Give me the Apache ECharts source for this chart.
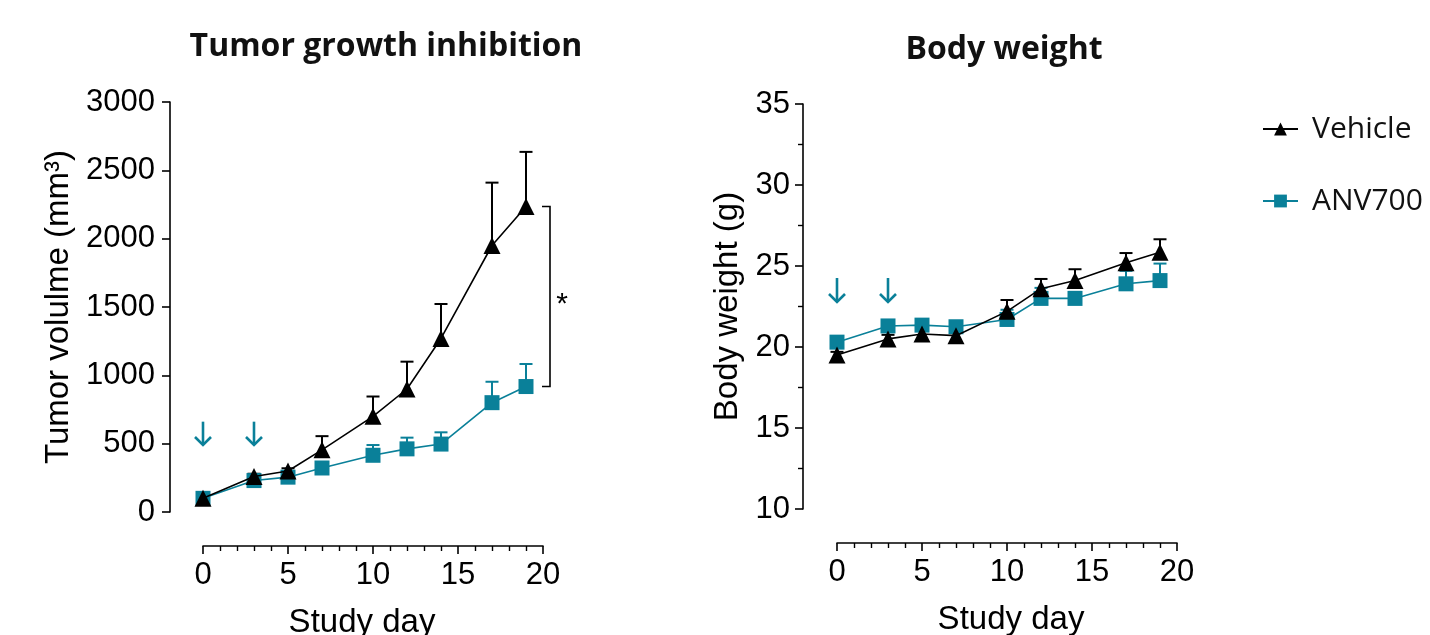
<!DOCTYPE html>
<html><head><meta charset="utf-8">
<script src="https://cdn.jsdelivr.net/npm/echarts@6/dist/echarts.min.js"></script>
<style>html,body{margin:0;padding:0;background:#fff}#c{width:1430px;height:635px}</style>
</head><body><div id="c"></div>
<script>
// ---- data ----
const days = [0, 3, 5, 7, 10, 12, 14, 17, 19];
const tumorVehicle    = [100, 260, 300, 455, 700, 900, 1270, 1950, 2235];
const tumorVehicleSEM = [10, 20, 20, 100, 145, 200, 252, 460, 400];
const tumorANV        = [100, 230, 255, 322, 415, 462, 497, 800, 918];
const tumorANVSEM     = [10, 15, 15, 20, 75, 82, 86, 153, 165];
const bwVehicle       = [19.5, 20.5, 20.8, 20.7, 22.2, 23.6, 24.1, 25.2, 25.85];
const bwVehicleSEM    = [0.2, 0.25, 0.4, 0.45, 0.7, 0.6, 0.7, 0.6, 0.8];
const bwANV           = [20.3, 21.3, 21.35, 21.25, 21.7, 23.0, 23.0, 23.9, 24.1];
const bwANVSEM        = [0.3, 0.3, 0.3, 0.3, 0.6, 0.65, 0.4, 0.8, 1.05];
const dosingDays = [0, 3];
const tumorArrow = [661, 490];     // top, bottom (mm3)
const bwArrow = [24.26, 22.78];    // top, bottom (g)
const sigBracket = [19, 2235, 918]; // day, vehicle mean, ANV mean

const TEAL = '#0a8099';
const BLACK = '#000000';
const TICKFONT = 'Liberation Sans';
const LABELFONT = 'Open Sans';

function errData(means, sems) { return days.map((d, i) => [d, means[i], means[i] + sems[i]]); }
function errSeries(name, xi, means, sems, color) {
  return {
    type: 'custom', name: name + ' err', xAxisIndex: xi, yAxisIndex: xi, z: 1, silent: true,
    data: errData(means, sems),
    renderItem: function (params, api) {
      const p0 = api.coord([api.value(0), api.value(1)]);
      const p1 = api.coord([api.value(0), api.value(2)]);
      return { type: 'group', children: [
        { type: 'line', shape: { x1: p0[0], y1: p0[1], x2: p1[0], y2: p1[1] }, style: { stroke: color, lineWidth: 2 } },
        { type: 'line', shape: { x1: p1[0] - 6.5, y1: p1[1], x2: p1[0] + 6.5, y2: p1[1] }, style: { stroke: color, lineWidth: 2 } }
      ]};
    }
  };
}
function lineSeries(name, xi, means, color, symbol, size, z) {
  return {
    type: 'line', name: name, xAxisIndex: xi, yAxisIndex: xi, z: z,
    data: days.map((d, i) => [d, means[i]]),
    symbol: symbol, symbolSize: size, showSymbol: true,
    lineStyle: { color: color, width: 1.6 }, itemStyle: { color: color },
    emphasis: { disabled: true }, animation: false
  };
}
function arrowSeries(xi, arrow) {
  return {
    type: 'custom', xAxisIndex: xi, yAxisIndex: xi, z: 3, silent: true,
    data: dosingDays.map(d => [d, arrow[0], arrow[1]]),
    renderItem: function (params, api) {
      const t = api.coord([api.value(0), api.value(1)]);
      const b = api.coord([api.value(0), api.value(2)]);
      return { type: 'group', children: [
        { type: 'line', shape: { x1: t[0], y1: t[1], x2: b[0], y2: b[1] }, style: { stroke: TEAL, lineWidth: 2.6 } },
        { type: 'polyline', shape: { points: [[b[0] - 8, b[1] - 8], [b[0], b[1]], [b[0] + 8, b[1] - 8]] }, style: { stroke: TEAL, lineWidth: 2.6, fill: null } }
      ]};
    }
  };
}
function xAxis(gi, offset, namePad) {
  return {
    type: 'value', gridIndex: gi, min: 0, max: 20, interval: 5, offset: offset,
    axisLine: { show: true, onZero: false, lineStyle: { color: BLACK, width: 1.6 } },
    axisTick: { show: true, length: 8, lineStyle: { color: BLACK, width: 1.6 } },
    minorTick: { show: true, splitNumber: 5, length: 5, lineStyle: { color: BLACK, width: 1.4 } },
    splitLine: { show: false },
    axisLabel: { color: BLACK, fontFamily: TICKFONT, fontSize: 31, margin: 14, formatter: v => String(v) },
    name: 'Study day', nameLocation: 'middle', nameGap: 60, nameMoveOverlap: false,
    nameTextStyle: { color: BLACK, fontFamily: TICKFONT, fontSize: 33, padding: namePad }
  };
}
function yAxis(gi, min, max, interval, minor, offset, name, gap, margin) {
  return {
    type: 'value', gridIndex: gi, min: min, max: max, interval: interval, offset: offset,
    axisLine: { show: true, onZero: false, lineStyle: { color: BLACK, width: 1.6 } },
    axisTick: { show: true, length: 8, lineStyle: { color: BLACK, width: 1.6 } },
    minorTick: { show: minor > 0, splitNumber: minor || 1, length: 5, lineStyle: { color: BLACK, width: 1.4 } },
    splitLine: { show: false },
    axisLabel: { color: BLACK, fontFamily: TICKFONT, fontSize: 31, margin: margin, formatter: v => String(v) },
    name: name, nameLocation: 'middle', nameGap: gap, nameRotate: 90, nameMoveOverlap: false,
    nameTextStyle: { color: BLACK, fontFamily: TICKFONT, fontSize: 33 }
  };
}

const chart = echarts.init(document.getElementById('c'), null, { renderer: 'canvas' });
chart.setOption({
  backgroundColor: '#ffffff',
  animation: false,
  grid: [
    { left: 203, top: 102, width: 340, height: 410, outerBoundsMode: 'none', containLabel: false },
    { left: 837, top: 104, width: 340, height: 405, outerBoundsMode: 'none', containLabel: false }
  ],
  xAxis: [xAxis(0, 34, [0, 22, 0, 0]), xAxis(1, 34, [0, 0, 0, 8])],
  yAxis: [
    yAxis(0, 0, 3000, 500, 0, 33, 'Tumor volulme (mm³)', 95, 15),
    yAxis(1, 10, 35, 5, 2, 34, 'Body weight (g)', 59, 13)
  ],
  legend: {
    orient: 'vertical', left: 1257, top: 109, itemGap: 42, itemWidth: 35, itemHeight: 16,
    data: ['Vehicle', 'ANV700'], selectedMode: false,
    textStyle: { color: '#111', fontFamily: LABELFONT, fontSize: 30, padding: [0, 0, 0, 9] }
  },
  graphic: [
    { type: 'text', x: 386, y: 47, style: { text: 'Tumor growth inhibition', font: 'bold 32px "Open Sans"', fill: '#111', textAlign: 'center', textVerticalAlign: 'middle' } },
    { type: 'text', x: 1004, y: 50, style: { text: 'Body weight', font: 'bold 32px "Open Sans"', fill: '#111', textAlign: 'center', textVerticalAlign: 'middle' } }
  ],
  series: [
    errSeries('ANV700', 0, tumorANV, tumorANVSEM, TEAL),
    errSeries('Vehicle', 0, tumorVehicle, tumorVehicleSEM, BLACK),
    lineSeries('ANV700', 0, tumorANV, TEAL, 'rect', 15, 2),
    lineSeries('Vehicle', 0, tumorVehicle, BLACK, 'triangle', 17, 4),
    errSeries('ANV700', 1, bwANV, bwANVSEM, TEAL),
    errSeries('Vehicle', 1, bwVehicle, bwVehicleSEM, BLACK),
    lineSeries('ANV700', 1, bwANV, TEAL, 'rect', 15, 2),
    lineSeries('Vehicle', 1, bwVehicle, BLACK, 'triangle', 17, 4),
    arrowSeries(0, tumorArrow),
    arrowSeries(1, bwArrow),
    {
      type: 'custom', xAxisIndex: 0, yAxisIndex: 0, z: 3, silent: true,
      data: [sigBracket],
      renderItem: function (params, api) {
        const a = api.coord([api.value(0), api.value(1)]);
        const b = api.coord([api.value(0), api.value(2)]);
        const x1 = a[0] + 16, x2 = a[0] + 24;
        return { type: 'group', children: [
          { type: 'polyline', shape: { points: [[x1, a[1]], [x2, a[1]], [x2, b[1]], [x1, b[1]]] }, style: { stroke: BLACK, lineWidth: 1.6, fill: null } },
          { type: 'text', x: x2 + 12, y: (a[1] + b[1]) / 2 + 8, style: { text: '*', font: '30px "Liberation Sans"', fill: BLACK, textAlign: 'center', textVerticalAlign: 'middle' } }
        ]};
      }
    }
  ]
});
</script></body></html>
